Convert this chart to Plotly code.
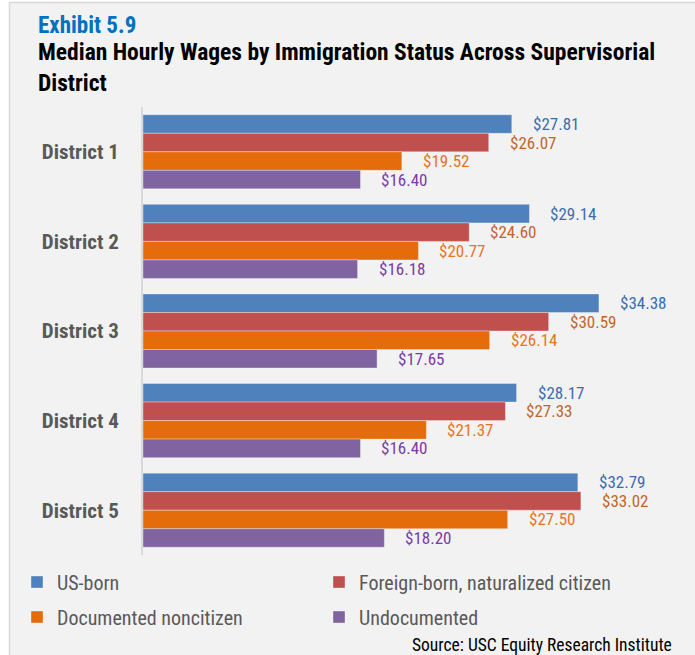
import plotly.graph_objects as go

# Median hourly wages by immigration status, per supervisorial district
districts = ["District 1", "District 2", "District 3", "District 4", "District 5"]
series_names = [
    "US-born",
    "Foreign-born, naturalized citizen",
    "Documented noncitizen",
    "Undocumented",
]
us_born = [27.81, 29.14, 34.38, 28.17, 32.79]
naturalized = [26.07, 24.60, 30.59, 27.33, 33.02]
documented = [19.52, 20.77, 26.14, 21.37, 27.50]
undocumented = [16.40, 16.18, 17.65, 16.40, 18.20]

series_values = [us_born, naturalized, documented, undocumented]
bar_colors = ["#4f81bd", "#c0504d", "#e46c0a", "#8064a2"]
label_colors = ["#3a6cb0", "#c0662a", "#e8741e", "#7a3aa8"]

W, H = 695, 655
ML, MR, MT, MB = 143, 10, 107, 100
PW, PH = W - ML - MR, H - MT - MB
X_MAX = 40.87
BARGAP = 0.173

FONT = "Liberation Sans Narrow, Arial Narrow, Roboto Condensed, Liberation Sans, Arial, sans-serif"


def px_x(px):
    return (px - ML) / PW


def px_y(py):
    return (H - MB - py) / PH


fig = go.Figure()

for i, (name, vals) in enumerate(zip(series_names, series_values)):
    fig.add_trace(
        go.Bar(
            name=name,
            y=districts,
            x=vals,
            orientation="h",
            marker=dict(color=bar_colors[i], line=dict(color="rgba(255,255,255,0.35)", width=1)),
            legend="legend" if i < 2 else "legend2",
            hoverinfo="x+name",
        )
    )

# value labels next to each bar
bar_px = (PH / len(districts)) * (1 - BARGAP) / len(series_names)
annotations = []
for i, vals in enumerate(series_values):
    for d, v in zip(districts, vals):
        annotations.append(
            dict(
                x=v,
                y=d,
                xref="x",
                yref="y",
                text=f"${v:.2f}",
                showarrow=False,
                xanchor="left",
                yanchor="middle",
                xshift=19,
                yshift=(1.5 - i) * bar_px,
                font=dict(family=FONT, size=17, color=label_colors[i]),
            )
        )

# headings and source note
annotations += [
    dict(
        x=px_x(36), y=px_y(25), xref="paper", yref="paper",
        text="<b>Exhibit 5.9</b>", showarrow=False,
        xanchor="left", yanchor="middle",
        font=dict(family=FONT, size=23, color="#0070c0"),
    ),
    dict(
        x=px_x(36), y=px_y(67), xref="paper", yref="paper",
        text="<b>Median Hourly Wages by Immigration Status Across Supervisorial<br>District</b>",
        showarrow=False, xanchor="left", yanchor="middle", align="left",
        font=dict(family=FONT, size=23.5, color="#000000"),
    ),
    dict(
        x=px_x(674), y=px_y(645), xref="paper", yref="paper",
        text="Source: USC Equity Research Institute", showarrow=False,
        xanchor="right", yanchor="middle",
        font=dict(family=FONT, size=17.5, color="#000000"),
    ),
]

legend_common = dict(
    orientation="h",
    xanchor="left",
    yanchor="middle",
    entrywidth=257,
    entrywidthmode="pixels",
    bgcolor="rgba(0,0,0,0)",
    font=dict(family=FONT, size=20, color="#595959"),
    traceorder="normal",
)

fig.update_layout(
    width=W,
    height=H,
    margin=dict(l=ML, r=MR, t=MT, b=MB),
    paper_bgcolor="#ffffff",
    plot_bgcolor="rgba(0,0,0,0)",
    barmode="group",
    bargap=BARGAP,
    bargroupgap=0,
    showlegend=True,
    legend=dict(x=px_x(17), y=px_y(582), **legend_common),
    legend2=dict(x=px_x(17), y=px_y(617), **legend_common),
    xaxis=dict(
        range=[0, X_MAX],
        visible=False,
        fixedrange=True,
    ),
    yaxis=dict(
        autorange="reversed",
        showline=True,
        linecolor="#d9d9d9",
        linewidth=2,
        ticks="",
        ticklabelstandoff=18,
        tickfont=dict(family=FONT, size=21, color="#595959", weight="bold"),
        showgrid=False,
        zeroline=False,
        fixedrange=True,
    ),
    annotations=annotations,
    shapes=[
        dict(
            type="rect", xref="paper", yref="paper", layer="below",
            x0=px_x(9.5), x1=px_x(720), y0=px_y(2.5), y1=px_y(680),
            line=dict(color="#d9d9d9", width=1.5),
            fillcolor="#f2f2f2",
        )
    ],
)

fig.write_html("out.html")
